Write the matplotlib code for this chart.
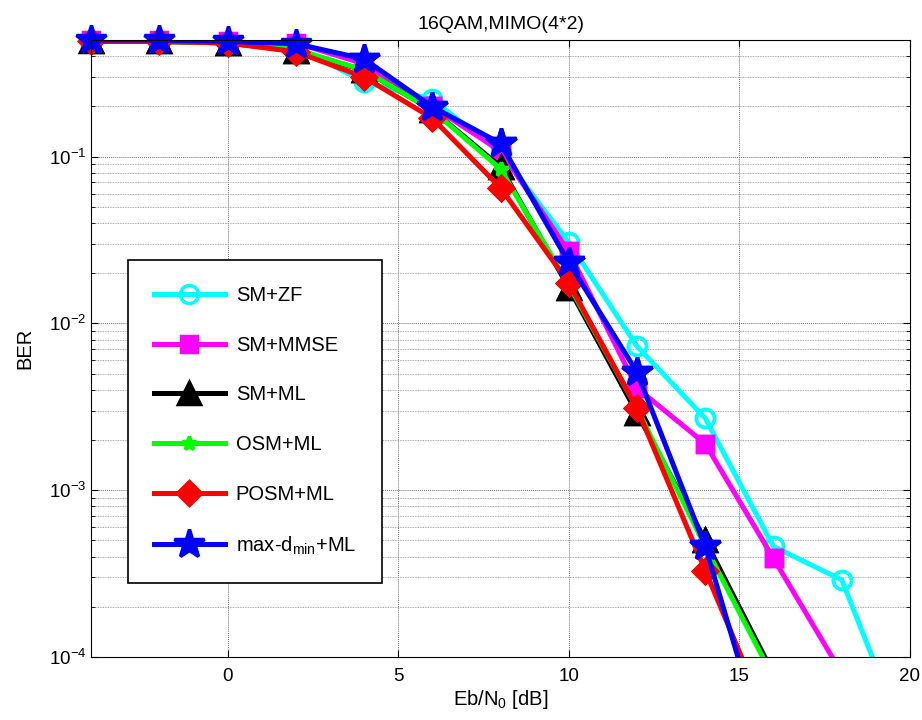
import numpy as np
import matplotlib
matplotlib.use("Agg")
import matplotlib.pyplot as plt

plt.rcParams['font.family'] = ['Liberation Sans', 'DejaVu Sans']
plt.rcParams['mathtext.fontset'] = 'custom'
plt.rcParams['mathtext.rm'] = 'Liberation Sans'
plt.rcParams['mathtext.it'] = 'Liberation Sans'

nan = np.nan
ebn0_db = [-4, -2, 0, 2, 4, 6, 8, 10, 12, 14, 16, 18, 20]

ber_sm_zf = [0.49, 0.49, 0.48, 0.46, 0.28, 0.22, 0.105, 0.0307, 0.0073, 0.0027, 0.00046, 0.00029, 2.7e-5]
ber_sm_mmse = [0.50, 0.50, 0.49, 0.48, 0.36, 0.20, 0.108, 0.027, 0.0041, 0.0019, 0.00039, 8.0e-5, nan]
ber_sm_ml = [0.49, 0.49, 0.48, 0.43, 0.33, 0.19, 0.087, 0.0164, 0.0029, 0.0005, 7.9e-5, nan, nan]
ber_osm_ml = [0.49, 0.49, 0.48, 0.44, 0.33, 0.19, 0.0845, 0.017, 0.0031, 0.00046, 7.5e-5, nan, nan]
ber_posm_ml = [0.49, 0.49, 0.48, 0.425, 0.30, 0.17, 0.065, 0.0175, 0.0031, 0.00033, 3.5e-5, nan, nan]
ber_maxdmin_ml = [0.50, 0.50, 0.49, 0.475, 0.385, 0.199, 0.12, 0.0232, 0.0051, 0.00046, 1.9e-5, nan, nan]

series = [
    (ber_sm_zf, 'SM+ZF', 'cyan', 'o', 13, 'none'),
    (ber_sm_mmse, 'SM+MMSE', 'magenta', 's', 11, 'magenta'),
    (ber_sm_ml, 'SM+ML', 'black', '^', 16, 'black'),
    (ber_osm_ml, 'OSM+ML', '#00ff00', '*', 10, '#00ff00'),
    (ber_posm_ml, 'POSM+ML', 'red', 'D', 12, 'red'),
    (ber_maxdmin_ml, 'max-d$_{min}$+ML', 'blue', '*', 22, 'blue'),
]

YMIN, YMAX = 1e-4, 0.5

fig = plt.figure(figsize=(9.22, 7.2), dpi=100)
ax = fig.add_axes([91/922, 1-657/720, (910-91)/922, (657-40)/720])
ax.set_yscale('log')

x = np.array(ebn0_db, dtype=float)
for vals, label, color, marker, ms, mfc in series:
    y = np.array(vals, dtype=float)
    ax.plot(x, y, color=color, lw=3.6, marker=marker, ms=ms, mfc=mfc,
            mec=color, mew=2.5, label=label)
    inside = (y >= YMIN) & np.isfinite(y)
    ax.plot(x[inside], y[inside], ls='none', marker=marker, ms=ms, mfc=mfc,
            mec=color, mew=2.5, clip_on=False)

ax.set_xlim(-4, 20)
ax.set_ylim(YMIN, YMAX)
ax.set_xticks([0, 5, 10, 15, 20])
ax.grid(True, which='major', color='#707070', ls=(0, (1, 1)), lw=0.7)
ax.grid(True, which='minor', axis='y', color='#909090', ls=(0, (1, 1)), lw=0.6)
ax.tick_params(which='both', direction='in', top=True, right=True, labelsize=13.5)
ax.tick_params(which='major', length=5)
ax.tick_params(which='minor', length=3)
ax.tick_params(axis='x', pad=8)
for s in ax.spines.values():
    s.set_linewidth(0.8)

ax.set_title('16QAM,MIMO(4*2)', fontsize=14, pad=8)
ax.set_xlabel('Eb/N$_0$ [dB]', fontsize=14.5, labelpad=2)
ax.set_ylabel('BER', fontsize=14.5, labelpad=10)

leg = ax.legend(loc='upper left', bbox_to_anchor=((128-91)/819, (657-260)/617),
                fontsize=14.5, handlelength=3.5, labelspacing=1.52, borderpad=1.3,
                handletextpad=0.55, fancybox=False, framealpha=1, edgecolor='black',
                borderaxespad=0)
leg.get_frame().set_linewidth(1.2)

fig.savefig('out.png', dpi=100)
